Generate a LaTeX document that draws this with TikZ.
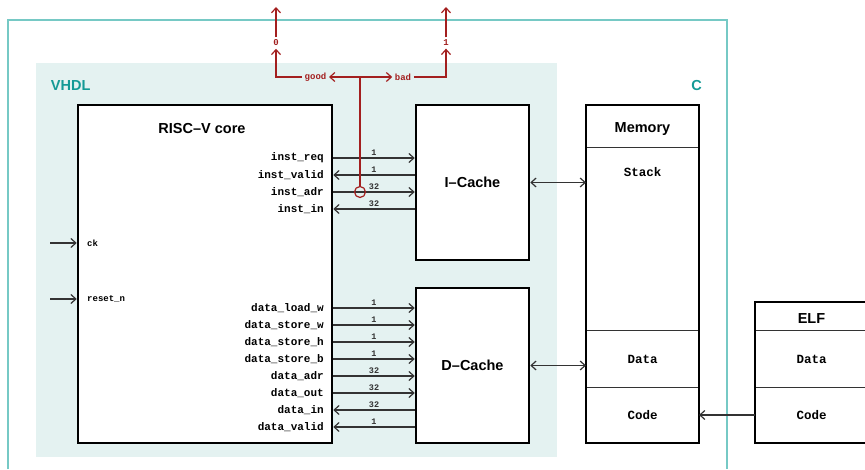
\documentclass[tikz,border=0pt]{standalone}
\usepackage{fontspec}
\setmainfont{Liberation Sans}
\setmonofont{Liberation Mono}
\usetikzlibrary{positioning,arrows.meta}
\definecolor{vhdlfill}{HTML}{E4F2F1}
\definecolor{frameteal}{HTML}{76C9C5}
\definecolor{tealtext}{HTML}{149A96}
\definecolor{flagred}{HTML}{A31F1F}

\begin{document}
\begin{tikzpicture}[
    x=10pt, y=10pt,
    >={Straight Barb[length=5pt,width=9pt]},
    blockbox/.style={draw, fill=white, line width=2.5pt, inner sep=0pt, minimum width=113pt, minimum height=155pt,
        font=\fontsize{14.5}{17}\selectfont\bfseries},
    memcell/.style={draw=black!80, fill=white, line width=1pt, inner sep=0pt, outer sep=0pt, minimum width=113pt,
        font=\ttfamily\bfseries\fontsize{12.5}{14}\selectfont},
    celltitle/.style={font=\fontsize{14.5}{17}\selectfont\bfseries},
    portlbl/.style={anchor=east, inner sep=1pt, font=\ttfamily\bfseries\fontsize{11}{13}\selectfont},
    inlbl/.style={anchor=west, inner sep=1pt, font=\ttfamily\bfseries\fontsize{9}{11}\selectfont},
    sigwire/.style={black!80, line width=1.2pt},
    buslbl/.style={above, inner sep=1.5pt, font=\ttfamily\bfseries\fontsize{8.5}{10}\selectfont},
    flagwire/.style={flagred, line width=1.2pt},
    flaglbl/.style={text=flagred, inner sep=2.5pt, font=\ttfamily\bfseries\fontsize{9}{11}\selectfont},
    zonelbl/.style={text=tealtext, font=\fontsize{14.5}{17}\selectfont\bfseries}
]
\useasboundingbox (0,0) rectangle (86.5,46.9);

% oblasti
\fill[vhdlfill] (3.6,1.2) rectangle (55.7,40.6);
\draw[frameteal, line width=2pt] (0.8,0) |- (72.7,44.9) -- (72.7,0);
\node[zonelbl] (vhdl) at (7.07,38.3) {VHDL};
\node[zonelbl] (clang) at (69.67,38.3) {C};

% bloky
\node[blockbox, minimum width=254pt, minimum height=338pt] (core) at (20.5,19.5) {};
\node[celltitle] (coretitle) at (20.2,34.0) {RISC--V core};
\node[blockbox] (icache) at (47.25,28.65) {I--Cache};
\node[blockbox] (dcache) at (47.25,10.35) {D--Cache};

% pamat
\node[memcell, minimum height=43pt] (memtitle) at (64.25,34.25) {};
\node[memcell, minimum height=183pt, below=0pt of memtitle] (memstack) {};
\node[memcell, minimum height=56pt, below=0pt of memstack] (memdata) {Data};
\node[memcell, minimum height=56pt, below=0pt of memdata] (memcode) {Code};
\node[celltitle] (memlbl) at (64.25,33.95) {Memory};
\node[font=\ttfamily\bfseries\fontsize{12.5}{14}\selectfont] (stacklbl) at (64.25,29.7) {Stack};
\draw[line width=2.5pt] (memtitle.north west) rectangle (memcode.south east);

% elf
\node[memcell, minimum height=29pt] (elftitle) at (81.15,15.25) {};
\node[memcell, minimum height=56pt, below=0pt of elftitle] (elfdata) {Data};
\node[memcell, minimum height=56pt, below=0pt of elfdata] (elfcode) {Code};
\node[celltitle] (elflbl) at (81.15,15.0) {ELF};
\draw[line width=2.5pt] (elftitle.north west) rectangle (elfcode.south east);

% porty jadra
\node[portlbl] (ireq) at (32.5,31.1) {inst\_req};
\node[portlbl] (ivalid) at (32.5,29.4) {inst\_valid};
\node[portlbl] (iadr) at (32.5,27.7) {inst\_adr};
\node[portlbl] (iin) at (32.5,26.0) {inst\_in};
\node[portlbl] (dloadw) at (32.5,16.1) {data\_load\_w};
\node[portlbl] (dstorew) at (32.5,14.4) {data\_store\_w};
\node[portlbl] (dstoreh) at (32.5,12.7) {data\_store\_h};
\node[portlbl] (dstoreb) at (32.5,11.0) {data\_store\_b};
\node[portlbl] (dadr) at (32.5,9.3) {data\_adr};
\node[portlbl] (dout) at (32.5,7.6) {data\_out};
\node[portlbl] (din) at (32.5,5.9) {data\_in};
\node[portlbl] (dvalid) at (32.5,4.2) {data\_valid};
\node[inlbl] (ck) at (8.6,22.6) {ck};
\node[inlbl] (rst) at (8.6,17.0) {reset\_n};
\coordinate (ckin) at (5.0,22.6);
\coordinate (rstin) at (5.0,17.0);

% signaly
\draw[sigwire,->] (ckin) -- (core.west |- ck);
\draw[sigwire,->] (rstin) -- (core.west |- rst);
\draw[sigwire,->] (core.east |- ireq) -- node[buslbl]{1} (icache.west |- ireq);
\draw[sigwire,<-] (core.east |- ivalid) -- node[buslbl]{1} (icache.west |- ivalid);
\draw[sigwire,->] (core.east |- iadr) -- node[buslbl]{32} (icache.west |- iadr);
\draw[sigwire,<-] (core.east |- iin) -- node[buslbl]{32} (icache.west |- iin);
\draw[sigwire,->] (core.east |- dloadw) -- node[buslbl]{1} (dcache.west |- dloadw);
\draw[sigwire,->] (core.east |- dstorew) -- node[buslbl]{1} (dcache.west |- dstorew);
\draw[sigwire,->] (core.east |- dstoreh) -- node[buslbl]{1} (dcache.west |- dstoreh);
\draw[sigwire,->] (core.east |- dstoreb) -- node[buslbl]{1} (dcache.west |- dstoreb);
\draw[sigwire,->] (core.east |- dadr) -- node[buslbl]{32} (dcache.west |- dadr);
\draw[sigwire,->] (core.east |- dout) -- node[buslbl]{32} (dcache.west |- dout);
\draw[sigwire,<-] (core.east |- din) -- node[buslbl]{32} (dcache.west |- din);
\draw[sigwire,<-] (core.east |- dvalid) -- node[buslbl]{1} (dcache.west |- dvalid);
\draw[sigwire,<->] (icache.east) -- (icache.east -| memstack.west);
\draw[sigwire,<->] (dcache.east) -- (dcache.east -| memdata.west);
\draw[sigwire,->] (elfcode) -- (memcode);

% odbocka
\node[draw=flagred, line width=1.2pt, circle, minimum size=11pt, inner sep=0pt] (tap) at (36.0,27.7) {};
\coordinate (split) at (36.0,39.2);
\node[flaglbl] (good) at (31.55,39.2) {good};
\node[flaglbl] (bad) at (40.3,39.2) {bad};
\node[flaglbl] (zero) at (27.6,42.6) {0};
\node[flaglbl] (one) at (44.6,42.6) {1};
\coordinate (zeroout) at (27.6,46.2);
\coordinate (oneout) at (44.6,46.2);
\draw[flagwire] (tap) -- (split);
\draw[flagwire,->] (split) -- (good);
\draw[flagwire,->] (split) -- (bad);
\draw[flagwire,->] (good) -| (zero);
\draw[flagwire,->] (bad) -| (one);
\draw[flagwire,->] (zero) -- (zeroout);
\draw[flagwire,->] (one) -- (oneout);

\end{tikzpicture}
\end{document}
